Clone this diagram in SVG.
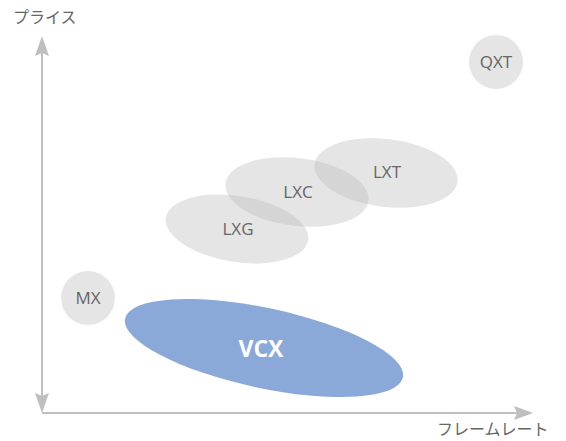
<svg xmlns="http://www.w3.org/2000/svg" width="566" height="441" viewBox="0 0 566 441">
<style>
.ax{stroke:#bfbfbf;stroke-width:2;fill:none}
.ah{fill:#bfbfbf}
.g{fill:#bfbfbf;fill-opacity:0.4}
.t{font-family:"Open Sans","Noto Sans",sans-serif;font-size:17px;fill:#666666;text-anchor:middle}
.j{font-family:"Noto Sans CJK JP","Noto Sans",sans-serif;font-size:16px;fill:#666666}
.v{font-family:"Open Sans","Noto Sans",sans-serif;font-size:23px;font-weight:bold;fill:#ffffff;text-anchor:middle}
</style>
<rect width="566" height="441" fill="#ffffff"/>
<g id="connectors">
<line class="ax" x1="42" y1="50" x2="42" y2="400"/>
<line class="ax" x1="42" y1="413" x2="520" y2="413"/>
<path class="ah" d="M42 36 L49 56 L42 53 L35 56 Z"/>
<path class="ah" d="M42 413 L35 393 L42 396 L49 393 Z"/>
<path class="ah" d="M533 413 L514 406 L517 413 L514 420 Z"/>
</g>
<g id="axis-y-label"><text class="j" x="13" y="23">プライス</text></g>
<g id="axis-x-label"><text class="j" x="437" y="435">フレームレート</text></g>
<g id="QXT"><circle class="g" cx="496" cy="62" r="27"/><text class="t" x="496" y="68">QXT</text></g>
<g id="MX"><circle class="g" cx="88" cy="298" r="27"/><text class="t" x="88" y="304">MX</text></g>
<g id="LXT"><ellipse class="g" cx="386" cy="173" rx="72" ry="34" transform="rotate(7 386 173)"/><text class="t" x="387" y="178">LXT</text></g>
<g id="LXC"><ellipse class="g" cx="297" cy="192" rx="72" ry="34" transform="rotate(7 297 192)"/><text class="t" x="298" y="198">LXC</text></g>
<g id="LXG"><ellipse class="g" cx="237" cy="229" rx="72" ry="33" transform="rotate(9 237 229)"/><text class="t" x="238" y="235">LXG</text></g>
<g id="VCX"><ellipse cx="264" cy="348" rx="142" ry="40" fill="#8aa8d8" transform="rotate(12 264 348)"/><text class="v" x="261" y="357">VCX</text></g>
</svg>
